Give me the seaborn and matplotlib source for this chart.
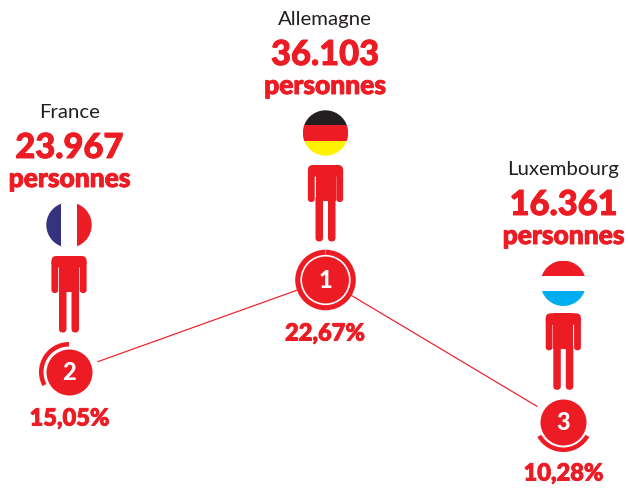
import numpy as np
import pandas as pd
import matplotlib
matplotlib.use('Agg')
import matplotlib.pyplot as plt
import matplotlib.patheffects as pe
import seaborn as sns
from matplotlib.patches import Circle, FancyBboxPatch, Rectangle, Wedge

RED = '#ed1c24'

# Chart data
countries = ['France', 'Allemagne', 'Luxembourg']
persons = ['23.967', '36.103', '16.361']
shares = ['15,05%', '22,67%', '10,28%']
ranks = ['2', '1', '3']
flag_colors = [
    ['#35327f', 'white', RED],
    ['#231f20', RED, '#fff200'],
    [RED, 'white', '#00aeef'],
]

# Layout in picture pixels, the infographic has no value axis
bubble_x = [69, 325.5, 563.3]
bubble_y = [372, 280, 422]
person_top = [256, 165, 313.3]
flag_y = [225, 133, 283.3]
text_x = [69.5, 325, 563.5]
name_y = [112, 19, 169]
count_y = [148, 55, 205]
unit_y = [179, 86, 236]
share_y = [418, 333, 473]

sns.set_theme(style='white')
plt.rcParams['font.family'] = ['Lato', 'DejaVu Sans']

fig, ax = plt.subplots(figsize=(6.28, 4.88), dpi=100)
fig.subplots_adjust(0, 0, 1, 1)
ax.set_xlim(0, 628)
ax.set_ylim(488, 0)
ax.axis('off')


def rounded(x0, y0, x1, y1, r):
    ax.add_patch(FancyBboxPatch((x0 + r, y0 + r), x1 - x0 - 2 * r, y1 - y0 - 2 * r,
                                boxstyle=f'round,pad={r},rounding_size={r}',
                                fc=RED, ec='none', zorder=3))


def draw_person(cx, top):
    rounded(cx - 17.6, top, cx + 17.6, top + 11.5, 5)
    rounded(cx - 17.6, top + 4, cx - 10.8, top + 37, 3)
    rounded(cx + 10.8, top + 4, cx + 17.6, top + 37, 3)
    ax.add_patch(Rectangle((cx - 10, top), 20, 36, fc=RED, ec='none', zorder=3))
    rounded(cx - 10, top + 30, cx - 2.5, top + 76.5, 3.7)
    rounded(cx + 2.5, top + 30, cx + 10, top + 76.5, 3.7)


def draw_flag(cx, cy, colors, vertical):
    r = 22.7
    clip = Circle((cx, cy), r, transform=ax.transData)
    for i, c in enumerate(colors):
        if vertical:
            rect = Rectangle((cx - r + i * 2 * r / 3, cy - r), 2 * r / 3 + 0.3, 2 * r, fc=c, ec='none', zorder=3)
        else:
            rect = Rectangle((cx - r, cy - r + i * 2 * r / 3), 2 * r, 2 * r / 3 + 0.3, fc=c, ec='none', zorder=3)
        ax.add_patch(rect)
        rect.set_clip_path(clip)


# Connecting lines stop short of the bubbles
segments = []
for seg, (a, b) in enumerate([(0, 1), (1, 2)]):
    p, q = np.array([bubble_x[a], bubble_y[a]]), np.array([bubble_x[b], bubble_y[b]])
    d = (q - p) / np.linalg.norm(q - p)
    for pt in (p + d * 30.5, q - d * 30.5):
        segments.append({'seg': seg, 'x': pt[0], 'y': pt[1]})
sns.lineplot(data=pd.DataFrame(segments), x='x', y='y', units='seg', estimator=None,
             color=RED, lw=0.85, ax=ax, sort=False, legend=False)

# Rank bubbles
df = pd.DataFrame({'x': bubble_x, 'y': bubble_y})
sns.scatterplot(data=df, x='x', y='y', s=(46 * 0.72) ** 2, color=RED, linewidth=0, ax=ax, zorder=4, legend=False)
ax.set_xlim(0, 628)
ax.set_ylim(488, 0)
ax.set_xlabel('')
ax.set_ylabel('')

# Arcs around the bubbles
ax.add_patch(Wedge((bubble_x[0], bubble_y[0]), 30, 152, 270, width=4.5, fc=RED, ec='none'))
ax.add_patch(Wedge((bubble_x[2], bubble_y[2]), 30, 30, 150, width=4.5, fc=RED, ec='none'))
ax.add_patch(Circle((bubble_x[1], bubble_y[1]), 30.3, fc=RED, ec='none', zorder=3))
ax.add_patch(Circle((bubble_x[1], bubble_y[1]), 24.3, fc='none', ec='white', lw=1.2, zorder=5))
ax.add_patch(Rectangle((bubble_x[1] - 0.25, bubble_y[1] - 30.3), 0.5, 5.5, fc='#f47b80', ec='none', zorder=5))

heavy = [pe.withStroke(linewidth=0.7, foreground=RED)]
for i, name in enumerate(countries):
    cx = bubble_x[i]
    draw_person(cx, person_top[i])
    draw_flag(cx, flag_y[i], flag_colors[i], vertical=(i == 0))
    ax.text(text_x[i], name_y[i], name, ha='center', va='center', fontsize=14.7, color='#231f20')
    ax.text(text_x[i], count_y[i], persons[i], ha='center', va='center', fontsize=24.8, fontweight='black',
            color=RED, path_effects=heavy)
    ax.text(text_x[i], unit_y[i], 'personnes', ha='center', va='center', fontsize=19, fontweight='black',
            color=RED, path_effects=heavy)
    ax.text(text_x[i], share_y[i], shares[i], ha='center', va='center', fontsize=17, fontweight='black',
            color=RED, path_effects=heavy)
    ax.text(cx, bubble_y[i], ranks[i], ha='center', va='center', fontsize=17, fontweight='black',
            color='white', zorder=6)

fig.savefig('out.png', dpi=100)
